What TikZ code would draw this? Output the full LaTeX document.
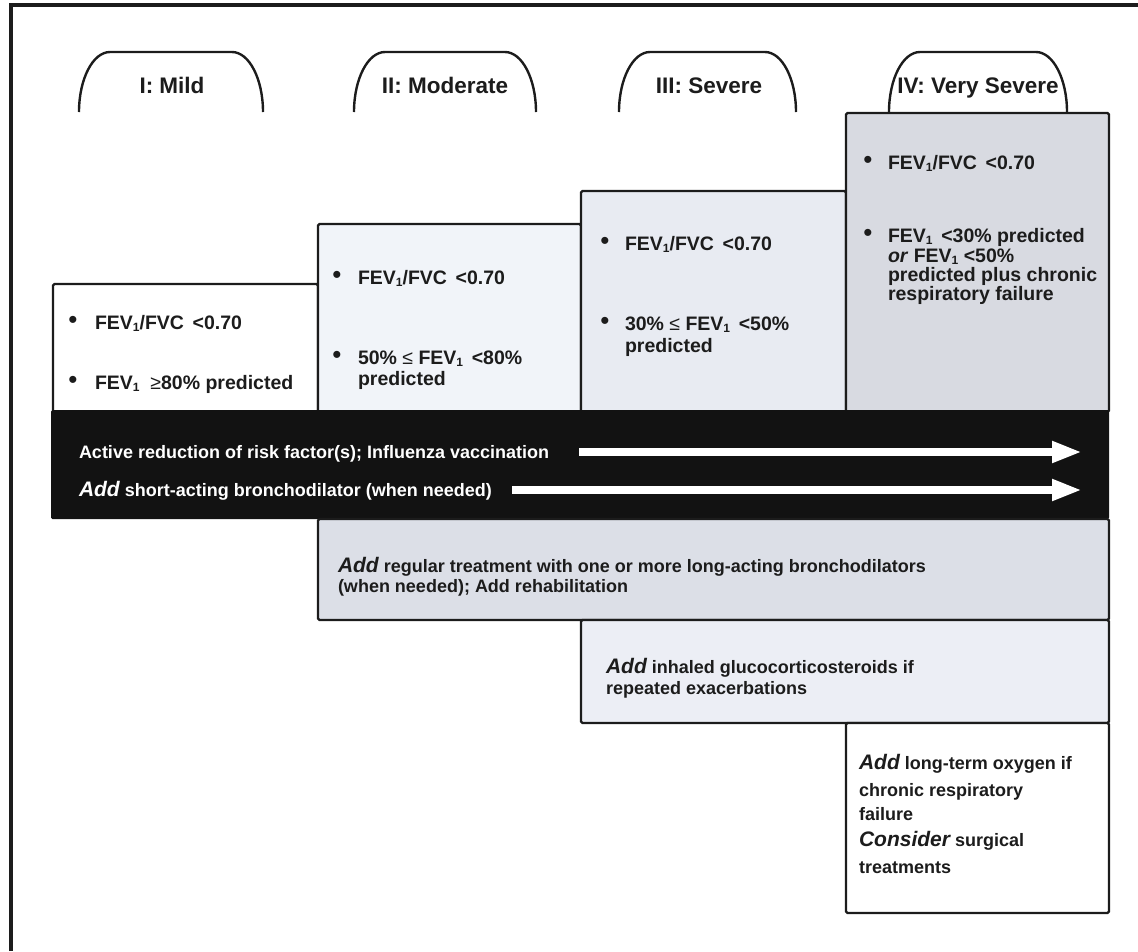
\documentclass[tikz,border=0pt]{standalone}
\usepackage{fontspec}
\setmainfont{Liberation Sans}
\usetikzlibrary{arrows.meta}

\definecolor{fillII}{HTML}{F1F4F9}
\definecolor{fillIII}{HTML}{E8EBF2}
\definecolor{fillIV}{HTML}{D8DAE1}
\definecolor{fillreg}{HTML}{DCDFE7}
\definecolor{fillinh}{HTML}{ECEEF5}
\definecolor{bandblack}{HTML}{121212}
\definecolor{ink}{HTML}{1C1C1C}

\newcommand\critfont{\fontsize{19.5}{22}\selectfont\bfseries}
\newcommand\bodyfont{\fontsize{18}{21}\selectfont\bfseries}
\newcommand\headfont{\fontsize{22.5}{26}\selectfont\bfseries}
\newcommand\kw[1]{{\fontsize{21}{21}\selectfont\itshape #1}}
% FEV with a small, slightly lowered index
\newcommand\fev{FEV{\fontsize{12}{12}\selectfont\raisebox{-2.5pt}{1}}}

\tikzset{
  stagebox/.style={draw=ink, line width=2.4pt, rounded corners=1.5pt},
  txt/.style={font=\bodyfont, text=ink, anchor=base west, inner sep=0pt, outer sep=0pt},
  crit/.style={txt, font=\critfont},
  wtxt/.style={txt, text=white},
  bul/.style={txt, anchor=center, font=\fontsize{26}{26}\selectfont},
  head/.style={font=\headfont, text=ink, inner sep=0pt, anchor=base},
  arch/.style={draw=ink, line width=2.4pt},
  bandarrow/.style={draw=white, line width=8pt, -{Triangle[length=30pt,width=20pt]}},
}

\begin{document}
\begin{tikzpicture}[x=1pt, y=-1pt]
\useasboundingbox (0,0) rectangle (1138,951);

% page frame: top and left rules only
\draw[draw=ink, line width=4pt] (11,951) -- (11,5) -- (1138,5);

% stage headings with their arches
\foreach \xl/\xr in {79/263, 354/536, 619/796, 889/1067}{
  \draw[arch] (\xl,112) .. controls (\xl,78.9) and (\xl+13.9,52) .. (\xl+31,52)
     -- (\xr-31,52) .. controls (\xr-13.9,52) and (\xr,78.9) .. (\xr,112);
}
\node[head] (h1) at (172,93) {I: Mild};
\node[head] (h2) at (445,93) {II: Moderate};
\node[head] (h3) at (709,93) {III: Severe};
\node[head] (h4) at (978,93) {IV: Very Severe};

% stage boxes (spirometric criteria)
\path[stagebox, fill=white]   (53,284) rectangle (318,412);
\path[stagebox, fill=fillII]  (318,224) rectangle (581,412);
\path[stagebox, fill=fillIII] (581,191) rectangle (846,412);
\path[stagebox, fill=fillIV]  (846,113) rectangle (1109,412);

% stage I
\node[bul] (b1a) at (73,322) {\textbullet};
\node[crit] (s1a) at (95,329) {\fev/FVC \,<0.70};
\node[bul] (b1b) at (73,382) {\textbullet};
\node[crit] (s1b) at (95,389) {\fev\ \ \textmd{≥}80\% predicted};

% stage II
\node[bul] (b2a) at (337,277) {\textbullet};
\node[crit] (s2a) at (358,284) {\fev/FVC \,<0.70};
\node[bul] (b2b) at (337,357) {\textbullet};
\node[crit] (s2b) at (358,364) {50\% \textmd{≤} \fev\ \,<80\%};
\node[crit] (s2c) at (358,385) {predicted};

% stage III
\node[bul] (b3a) at (605,243) {\textbullet};
\node[crit] (s3a) at (625,250) {\fev/FVC \,<0.70};
\node[bul] (b3b) at (605,323) {\textbullet};
\node[crit] (s3b) at (625,330) {30\% \textmd{≤} \fev\ \,<50\%};
\node[crit] (s3c) at (625,352) {predicted};

% stage IV
\node[bul] (b4a) at (868,162) {\textbullet};
\node[crit] (s4a) at (888,169) {\fev/FVC \,<0.70};
\node[bul] (b4b) at (868,235) {\textbullet};
\node[crit] (s4b) at (888,242) {\fev\ \,<30\% predicted};
\node[crit] (s4c) at (888,262) {\textit{or} \fev\ <50\%};
\node[crit] (s4d) at (888,281) {predicted plus chronic};
\node[crit] (s4e) at (888,300) {respiratory failure};

% treatment common to all stages
\path[fill=bandblack, rounded corners=1.5pt] (51,410) rectangle (1109,519);
\node[wtxt] (t1) at (79,458) {Active reduction of risk factor(s); Influenza vaccination};
\node[wtxt] (t2) at (79,496) {\kw{Add} short-acting bronchodilator (when needed)};
\coordinate (t1s) at (579,452);
\coordinate (t1e) at (1082,452);
\coordinate (t2s) at (512,490);
\coordinate (t2e) at (1082,490);
\draw[bandarrow] (t1s) -- (t1e);
\draw[bandarrow] (t2s) -- (t2e);

% stepwise additions
\path[stagebox, fill=fillreg] (318,519) rectangle (1109,620);
\node[txt] (r1) at (338,572) {\kw{Add} regular treatment with one or more long-acting bronchodilators};
\node[txt] (r2) at (338,592) {(when needed); Add rehabilitation};

\path[stagebox, fill=fillinh] (581,620) rectangle (1109,723);
\node[txt] (g1) at (606,673) {\kw{Add} inhaled glucocorticosteroids if};
\node[txt] (g2) at (606,694) {repeated exacerbations};

\path[stagebox, fill=white] (846,723) rectangle (1109,913);
\node[txt] (o1) at (859,769) {\kw{Add} long-term oxygen if};
\node[txt] (o2) at (859,796) {chronic respiratory};
\node[txt] (o3) at (859,820) {failure};
\node[txt] (o4) at (859,846) {\kw{Consider} surgical};
\node[txt] (o5) at (859,873) {treatments};
\end{tikzpicture}
\end{document}
